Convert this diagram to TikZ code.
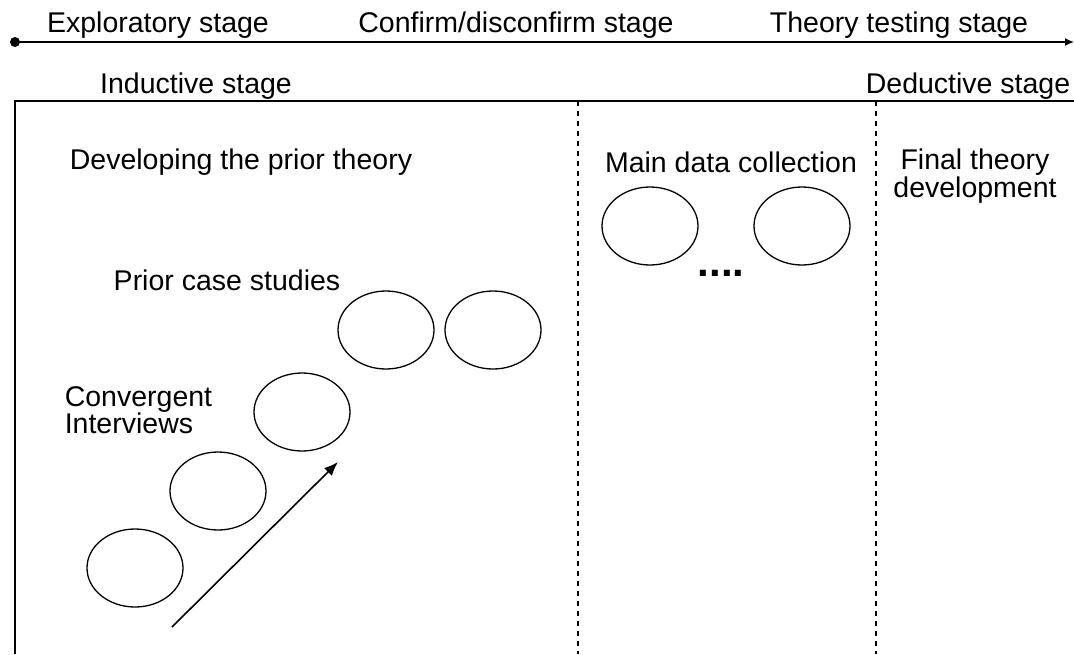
\documentclass[tikz,border=0pt]{standalone}
\usepackage{fontspec}
\setmainfont{Liberation Sans}
\usetikzlibrary{shapes.geometric, arrows.meta}
\tikzset{
  lbl/.style={inner sep=0pt, font=\fontsize{28.5}{25.5}\selectfont},
  circ/.style={draw, ellipse, line width=1.3pt, minimum width=96pt, minimum height=78pt, inner sep=0pt},
}
\begin{document}
\begin{tikzpicture}[x=1pt, y=-1pt, line width=1.6pt]
    \useasboundingbox (0,0) rectangle (1074,654);
    % 时间轴
    \node[circle, fill, inner sep=0pt, minimum size=10pt] (dot) at (15,42) {};
    \coordinate (tend) at (1074,42);
    \draw[-{Latex[length=9pt,width=8pt]}] (dot.center) -- (tend);
    \node[lbl] (expl) at (158,25) {Exploratory stage};
    \node[lbl] (conf) at (516,25) {Confirm/disconfirm stage};
    \node[lbl] (test) at (899,25) {Theory testing stage};
    % 阶段
    \node[lbl] (ind) at (196,86) {Inductive stage};
    \node[lbl, anchor=east] (ded) at (1071,86) {Deductive stage};
    % 边框与分隔线
    \draw (15,654) -- (15,101) -- (1074,101);
    \draw[line width=1.2pt, dash pattern=on 5pt off 5pt] (578,101) -- (578,654);
    \draw[line width=1.2pt, dash pattern=on 5pt off 5pt] (876,101) -- (876,654);
    % 标题
    \node[lbl] (dev) at (241,162) {Developing the prior theory};
    \node[lbl] (main) at (731,162) {Main data collection};
    \node[lbl, align=center] (fin) at (975,176) {Final theory\\development};
    \node[lbl] (prior) at (227,280) {Prior case studies};
    \node[lbl, align=left, anchor=west] (conv) at (64,410) {Convergent\\Interviews};
    % 案例
    \node[circ] (c1) at (135,568) {};
    \node[circ] (c2) at (218,491) {};
    \node[circ] (c3) at (302,412) {};
    \node[circ] (c4) at (386,330) {};
    \node[circ] (c5) at (493,330) {};
    \node[circ] (m1) at (650,226) {};
    \node[circ] (m2) at (802,226) {};
    \node[inner sep=0pt, font=\fontsize{42}{46}\selectfont\bfseries] (dots) at (721,273) {....};
    % 箭头
    \coordinate (as) at (172,627);
    \coordinate (ae) at (338,462);
    \draw[-{Latex[length=14pt,width=11pt]}] (as) -- (ae);
\end{tikzpicture}
\end{document}
